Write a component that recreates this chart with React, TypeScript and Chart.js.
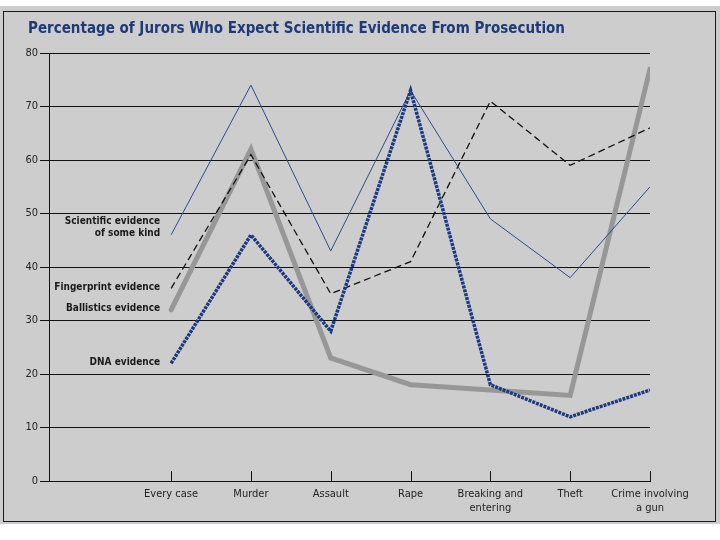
import { useEffect, useRef } from "react"
import { Chart, registerables } from "chart.js"

Chart.register(...registerables)

const FONT = "'Liberation Sans Narrow', 'DejaVu Sans Condensed', 'Liberation Sans', sans-serif"

const title = "Percentage of Jurors Who Expect Scientific Evidence From Prosecution"
const categories = ["Every case", "Murder", "Assault", "Rape", "Breaking and\nentering", "Theft", "Crime involving\na gun"]

// percentage per category
const dnaEvidence = [22, 46, 28, 73, 18, 12, 17]
const scientificEvidence = [46, 74, 43, 73, 49, 38, 55]
const fingerprintEvidence = [36, 61, 35, 41, 71, 59, 66]
const ballisticsEvidence = [32, 62, 23, 18, 17, 16, 77]

const seriesNames = ["DNA evidence", "Scientific evidence\nof some kind", "Fingerprint evidence", "Ballistics evidence"]

const toPoints = (values: number[]) => values.map((y, x) => ({ x, y }))

// title, little upward tick marks on the x axis, labels beside the first point of each line
const decorations = {
  id: "decorations",
  afterDatasetsDraw(chart: any) {
    const { ctx, chartArea, scales } = chart
    ctx.save()

    ctx.fillStyle = "#1f3a78"
    ctx.font = `bold 15px ${FONT}`
    ctx.textAlign = "left"
    ctx.textBaseline = "middle"
    ctx.fillText(title, 28, 29)

    ctx.strokeStyle = "#111"
    ctx.lineWidth = 1
    categories.forEach((_, i) => {
      const x = Math.round(scales.x.getPixelForValue(i)) + 0.5
      ctx.beginPath()
      ctx.moveTo(x, chartArea.bottom - 10)
      ctx.lineTo(x, chartArea.bottom)
      ctx.stroke()
    })

    ctx.fillStyle = "#1a1a1a"
    ctx.font = `bold 10px ${FONT}`
    ctx.textAlign = "right"
    chart.data.datasets.forEach((ds: any, i: number) => {
      const pt = chart.getDatasetMeta(i).data[0]
      const lines = String(ds.label).split("\n")
      lines.forEach((line: string, j: number) => {
        const y = pt.y - 1 - (lines.length - 1 - j) * 12
        ctx.fillText(line, pt.x - 11, y)
      })
    })
    ctx.restore()
  },
}

function JurorChart() {
  const chartRef = useRef<HTMLCanvasElement>(null)
  const chartInstance = useRef<Chart | null>(null)

  useEffect(() => {
    if (!chartRef.current) return
    if (chartInstance.current) chartInstance.current.destroy()
    const ctx = chartRef.current.getContext("2d")
    if (!ctx) return

    chartInstance.current = new Chart(ctx, {
      type: "line",
      data: {
        datasets: [
          {
            label: seriesNames[0],
            data: toPoints(dnaEvidence),
            borderColor: "#1b3a82",
            borderWidth: 3.5,
            borderDash: [3, 1],
          },
          {
            label: seriesNames[1],
            data: toPoints(scientificEvidence),
            borderColor: "#2b4b8e",
            borderWidth: 1,
          },
          {
            label: seriesNames[2],
            data: toPoints(fingerprintEvidence),
            borderColor: "#111",
            borderWidth: 1.3,
            borderDash: [7, 4],
          },
          {
            label: seriesNames[3],
            data: toPoints(ballisticsEvidence),
            borderColor: "#979797",
            borderWidth: 5,
            borderCapStyle: "round",
          },
        ] as any,
      },
      options: {
        responsive: false,
        animation: false,
        events: [],
        elements: {
          point: { radius: 0 },
          line: { tension: 0, borderJoinStyle: "miter" },
        },
        layout: { padding: { left: 0, right: 70, top: 53, bottom: 0 } },
        scales: {
          x: {
            type: "linear",
            min: -1.53,
            max: 6,
            afterBuildTicks: (scale: any) => {
              scale.ticks = categories.map((_, i) => ({ value: i }))
            },
            afterFit: (scale: any) => {
              scale.height = 59
            },
            grid: { display: false, drawTicks: false },
            border: { display: true, color: "#111", width: 1 },
            ticks: {
              autoSkip: false,
              maxRotation: 0,
              padding: 7,
              color: "#222",
              font: { family: FONT, size: 11 },
              callback: (v: any) => (categories[v] ?? "").split("\n"),
            },
          },
          y: {
            min: 0,
            max: 80,
            afterFit: (scale: any) => {
              scale.width = 49
            },
            grid: { color: "#111", lineWidth: 1, tickLength: 9 },
            border: { display: true, color: "#111", width: 1 },
            ticks: {
              stepSize: 10,
              padding: 2,
              color: "#222",
              font: { family: FONT, size: 11 },
            },
          },
        },
        plugins: {
          legend: { display: false },
          tooltip: { enabled: false },
          title: { display: false },
        },
      },
      plugins: [decorations],
    })

    return () => {
      if (chartInstance.current) chartInstance.current.destroy()
      chartInstance.current = null
    }
  }, [])

  return <canvas ref={chartRef} width={720} height={540} style={{ position: "absolute", left: 0, top: 0 }} />
}

export default function App() {
  return (
    <div style={{ position: "fixed", left: 0, top: 0, width: 720, height: 540, background: "#fff", overflow: "hidden" }}>
      <div style={{ position: "absolute", left: 0, top: 6, width: 720, height: 518, background: "#cdcdcd" }} />
      <div
        style={{
          position: "absolute",
          left: 3,
          top: 11,
          width: 711,
          height: 509,
          border: "1px solid #1a1a1a",
        }}
      />
      <JurorChart />
    </div>
  )
}
